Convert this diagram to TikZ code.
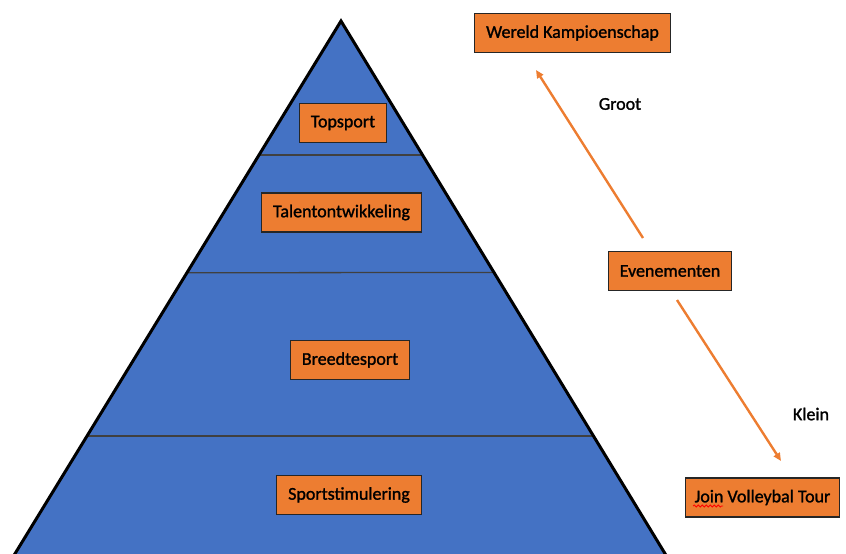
\documentclass[tikz,border=0pt]{standalone}
\usepackage{fontspec}
\setmainfont{Carlito}
\newfontfamily\boxfont{Carlito}[FakeBold=1.3]
\usetikzlibrary{arrows.meta,decorations.pathmorphing}

\definecolor{pyrblue}{HTML}{4472C4}
\definecolor{boxorange}{HTML}{ED7D31}

\begin{document}
\begin{tikzpicture}[x=1pt,y=-1pt,
    levelbox/.style={draw=black!85,fill=boxorange,line width=1.2pt,inner xsep=11.5pt,
      minimum height=39pt,font=\boxfont\fontsize{18}{21}\selectfont},
    sidetext/.style={font=\boxfont\fontsize{18}{21}\selectfont},
    grows/.style={draw=boxorange,line width=2.4pt,-{Triangle[length=8pt,width=7pt]}}]
            \useasboundingbox (0,0) rectangle (846,554);
            \clip (0,0) rectangle (846,554);
            % pyramide
            \begin{scope}
                \clip (341,21) -- (5,570) -- (675,570) -- cycle;
                \fill[pyrblue] (0,0) rectangle (846,570);
                \draw[line width=1.3pt,black!75] (0,155) -- (846,155);
                \draw[line width=1.3pt,black!75] (0,273) -- (846,272);
                \draw[line width=1.3pt,black!75] (0,436) -- (846,436);
            \end{scope}
            \draw[line width=3pt] (5,570) -- (341,21) -- (675,570);
            % niveaus
            \node[levelbox] (topsport) at (343,123) {Topsport};
            \node[levelbox] (talent) at (341.5,212.5) {Talentontwikkeling};
            \node[levelbox] (breedte) at (350,360) {Breedtesport};
            \node[levelbox] (stimulering) at (349,495) {Sportstimulering};
            % evenementen
            \node[levelbox] (wk) at (572.5,33) {Wereld Kampioenschap};
            \node[levelbox] (evenementen) at (670,271) {Evenementen};
            \node[levelbox,inner xsep=9pt] (jvt) at (762.5,497.5) {Join Volleybal Tour};
            \draw[red,line width=0.8pt,decorate,decoration={snake,segment length=4pt,amplitude=1pt}]
                (693,506) -- (723,506);
            \node[sidetext] (groot) at (620,104) {Groot};
            \node[sidetext] (klein) at (811,414) {Klein};
            \coordinate (wkpijl) at (536,70);
            \coordinate (evtop) at (643,238);
            \coordinate (evbot) at (677,300);
            \coordinate (jvtpijl) at (781,461);
            \draw[grows] (evtop) -- (wkpijl);
            \draw[grows] (evbot) -- (jvtpijl);
        \end{tikzpicture}
\end{document}
